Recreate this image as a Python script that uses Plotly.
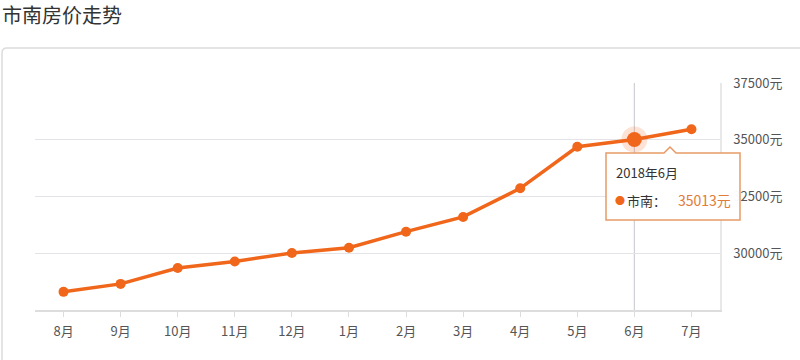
import plotly.graph_objects as go

months = ["8月", "9月", "10月", "11月", "12月", "1月", "2月", "3月", "4月", "5月", "6月", "7月"]
prices = [28300, 28650, 29350, 29640, 30010, 30240, 30950, 31600, 32860, 34690, 35013, 35460]
y_ticks = [30000, 32500, 35000, 37500]
y_ticktext = [f"{v}元" for v in y_ticks]
title_text = "市南房价走势"
series_name = "市南"
hover_month = "6月"
hover_label = "2018年6月"

ORANGE = "#f0661a"
FONT = "Noto Sans CJK SC, Noto Sans, sans-serif"

W, H = 800, 360
L, R, T, B = 35, 80, 83, 50
pw, ph = W - L - R, H - T - B

def px(x):
    return (x - L) / pw

def py(y):
    return (H - B - y) / ph

hi = months.index(hover_month)

fig = go.Figure()
fig.add_trace(go.Scatter(
    x=list(range(len(months))), y=prices, mode="lines+markers",
    line=dict(color=ORANGE, width=3.5),
    marker=dict(size=10, color=ORANGE),
    hoverinfo="skip", showlegend=False,
))
# hover halo
fig.add_trace(go.Scatter(
    x=[hi], y=[prices[hi]], mode="markers",
    marker=dict(size=26, color="rgba(240,102,26,0.18)"),
    hoverinfo="skip", showlegend=False,
))
fig.add_trace(go.Scatter(
    x=[hi], y=[prices[hi]], mode="markers",
    marker=dict(size=15, color=ORANGE),
    hoverinfo="skip", showlegend=False,
))

shapes = []
# outer container border
x0, y0, x1, y1, r = 2, 48, 806, 380, 5
path = (f"M {px(x0+r)},{py(y0)} L {px(x1-r)},{py(y0)} Q {px(x1)},{py(y0)} {px(x1)},{py(y0+r)} "
        f"L {px(x1)},{py(y1)} L {px(x0)},{py(y1)} L {px(x0)},{py(y0+r)} Q {px(x0)},{py(y0)} {px(x0+r)},{py(y0)} Z")
shapes.append(dict(type="path", xref="paper", yref="paper", path=path,
                   line=dict(color="#dcdcdc", width=1.5), layer="below"))
# hover cursor line
shapes.append(dict(type="line", xref="x", yref="paper", x0=hi, x1=hi, y0=0, y1=1,
                   line=dict(color="#cfcfd6", width=1.2), layer="below"))
# tooltip box with notch
bx0, by0, bx1, by1 = 606, 153, 740, 220
nx = 670
tpath = (f"M {px(bx0)},{py(by0)} L {px(nx-6)},{py(by0)} L {px(nx)},{py(by0-6)} L {px(nx+6)},{py(by0)} "
         f"L {px(bx1)},{py(by0)} L {px(bx1)},{py(by1)} L {px(bx0)},{py(by1)} Z")
shapes.append(dict(type="path", xref="paper", yref="paper", path=tpath,
                   fillcolor="rgba(255,255,255,0.97)", line=dict(color="#e89a66", width=1.5), layer="above"))

annotations = [
    dict(text=title_text, xref="paper", yref="paper", x=px(0), y=py(15), xanchor="left", yanchor="middle",
         showarrow=False, font=dict(family=FONT, size=20, color="#333333")),
    dict(text=hover_label, xref="paper", yref="paper", x=px(614), y=py(172), xanchor="left", yanchor="middle",
         showarrow=False, font=dict(family=FONT, size=13, color="#333333")),
    dict(text="●", xref="paper", yref="paper", x=px(613), y=py(200), xanchor="left", yanchor="middle",
         showarrow=False, font=dict(family=FONT, size=10, color=ORANGE)),
    dict(text=series_name + "：", xref="paper", yref="paper", x=px(625), y=py(200), xanchor="left", yanchor="middle",
         showarrow=False, font=dict(family=FONT, size=13, color="#333333")),
    dict(text=f"{prices[hi]}元", xref="paper", yref="paper", x=px(676), y=py(200), xanchor="left", yanchor="middle",
         showarrow=False, font=dict(family=FONT, size=14, color="#e07b39")),
]

fig.update_layout(
    width=W, height=H,
    margin=dict(l=L, r=R, t=T, b=B),
    paper_bgcolor="white", plot_bgcolor="white",
    font=dict(family=FONT, size=13, color="#555555"),
    shapes=shapes, annotations=annotations,
    xaxis=dict(
        range=[-0.5, len(months) - 0.5],
        tickvals=list(range(len(months))), ticktext=months,
        showgrid=False, zeroline=False,
        showline=True, linecolor="#dddddd", linewidth=2,
        ticks="outside", ticklen=5, tickcolor="#dddddd",
        ticklabelstandoff=3,
        tickfont=dict(size=13, color="#555555"),
        fixedrange=True,
    ),
    yaxis=dict(
        side="right", range=[27500, 37500],
        tickvals=y_ticks, ticktext=y_ticktext,
        showgrid=True, gridcolor="#e3e3e8", gridwidth=1,
        zeroline=False, showline=True, linecolor="#e8e8e8", linewidth=1.5,
        ticks="", ticklabelstandoff=9,
        tickfont=dict(size=13, color="#555555"),
        fixedrange=True,
    ),
)

fig.write_html("out.html", config={"displayModeBar": False},
               post_script="document.body.style.margin='0';document.body.style.padding='0';")
